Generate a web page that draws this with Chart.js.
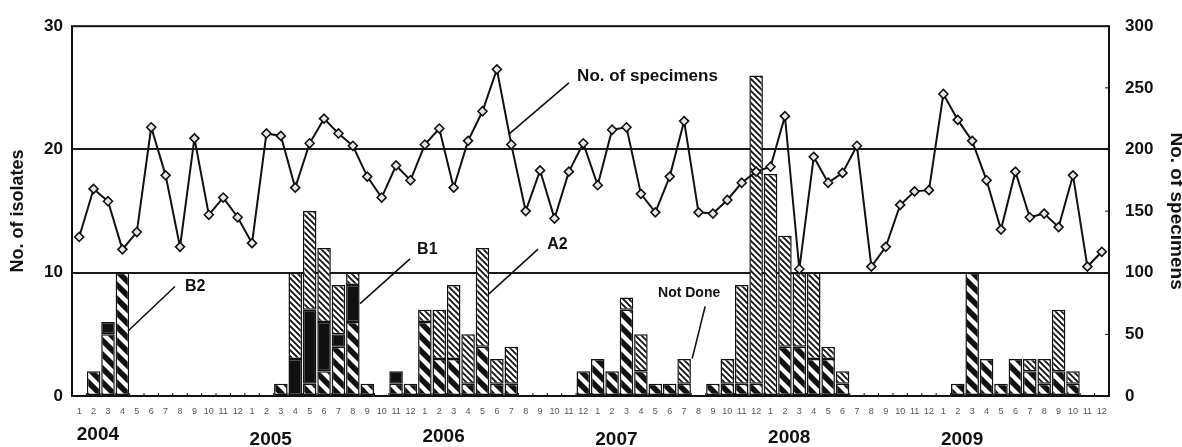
<!DOCTYPE html>
<html><head><meta charset="utf-8">
<script src="https://cdn.jsdelivr.net/npm/chart.js@4/dist/chart.umd.min.js"></script>
<style>html,body{margin:0;padding:0;background:#fff}canvas{display:block}</style>
</head><body>
<canvas id="c" width="1182" height="447"></canvas>
<script>
// ---------- DATA ----------
const years = ['2004','2005','2006','2007','2008','2009'];
const monthTicks = ['1','2','3','4','5','6','7','8','9','10','11','12'];
const leftTicks = [0,10,20,30];
const rightTicks = [0,50,100,150,200,250,300];

// B2 isolates (bold hatch)
const b2 = [
  0,2,5,10,0,0,0,0,0,0,0,0,
  0,0,1,0,1,2,4,6,1,0,1,1,
  6,3,3,1,4,1,1,0,0,0,0,2,
  3,2,7,2,1,1,1,0,1,1,1,1,
  0,4,4,3,3,1,0,0,0,0,0,0,
  0,1,10,3,1,3,2,1,2,1,0,0
];
// B1 isolates (solid black)
const b1 = [
  0,0,1,0,0,0,0,0,0,0,0,0,
  0,0,0,3,6,4,1,3,0,0,1,0,
  0,0,0,0,0,0,0,0,0,0,0,0,
  0,0,0,0,0,0,0,0,0,0,0,0,
  0,0,0,0,0,0,0,0,0,0,0,0,
  0,0,0,0,0,0,0,0,0,0,0,0
];
// A2 isolates (fine hatch)
const a2 = [
  0,0,0,0,0,0,0,0,0,0,0,0,
  0,0,0,7,8,6,4,1,0,0,0,0,
  1,4,6,4,8,2,3,0,0,0,0,0,
  0,0,1,3,0,0,2,0,0,2,8,25,
  18,9,6,7,1,1,0,0,0,0,0,0,
  0,0,0,0,0,0,1,2,5,1,0,0
];
// No. of specimens (right axis)
const specimens = [
  129,168,158,119,133,218,179,121,209,147,161,145,
  124,213,211,169,205,225,213,203,178,161,187,175,
  204,217,169,207,231,265,204,150,183,144,182,205,
  171,216,218,164,149,178,223,149,148,159,173,182,
  186,227,103,194,173,181,203,105,121,155,166,167,
  245,224,207,175,135,182,145,148,137,179,105,117
];

// ---------- LAYOUT / STYLE ----------
const FONT = '"Liberation Sans", Arial, sans-serif';
const yearPos = {offset:1.3, y:[435,440,437,440,438,440]};
const notes = [
  {text:'No. of specimens', at:[34.57,25.96], from:[34.0,25.4], to:[29.9,21.3], size:17},
  {text:'B2', at:[7.35,8.88], from:[6.65,8.88], to:[3.39,5.27], size:16},
  {text:'B1', at:[23.46,11.84], from:[22.97,11.12], to:[19.5,7.5], size:16},
  {text:'A2', at:[32.49,12.3], from:[31.86,11.92], to:[28.39,8.23], size:16},
  {text:'Not Done', at:[40.19,8.32], from:[43.46,7.27], to:[42.56,3.03], size:14}
];

const categories = [];
years.forEach(y => monthTicks.forEach(m => categories.push(y + '-' + m)));
const nz = arr => arr.map(v => v === 0 ? null : v);

const ctx = document.getElementById('c').getContext('2d');
function hatch(p, lw) {
  const c = document.createElement('canvas');
  c.width = c.height = p;
  const g = c.getContext('2d');
  g.fillStyle = '#fff'; g.fillRect(0,0,p,p);
  g.strokeStyle = '#111'; g.lineWidth = lw; g.lineCap = 'square';
  g.beginPath();
  for (const k of [-p, 0, p]) { g.moveTo(k, 0); g.lineTo(k + p, p); }
  g.stroke();
  return ctx.createPattern(c, 'repeat');
}
const patB2 = hatch(14, 5.5);
const patA2 = hatch(6, 1.8);

Chart.defaults.font.family = FONT;
Chart.defaults.color = '#111';

const decor = {
  id: 'decor',
  afterDatasetsDraw(chart) {
    const {ctx, chartArea: a, scales: {x, y, y1}} = chart;
    ctx.save();
    ctx.strokeStyle = '#111';
    ctx.lineWidth = 2;
    ctx.strokeRect(a.left, a.top, a.right - a.left, a.bottom - a.top);
    ctx.lineWidth = 1;
    const step = (a.right - a.left) / categories.length;
    for (let i = 1; i < categories.length; i++) {
      const px = a.left + i * step;
      ctx.beginPath(); ctx.moveTo(px, a.bottom); ctx.lineTo(px, a.bottom - 3); ctx.stroke();
    }
    rightTicks.forEach(v => {
      const py = y1.getPixelForValue(v);
      ctx.beginPath(); ctx.moveTo(a.right, py); ctx.lineTo(a.right - 4, py); ctx.stroke();
    });
    ctx.fillStyle = '#111';
    ctx.font = 'bold 19px ' + FONT;
    ctx.textAlign = 'center'; ctx.textBaseline = 'middle';
    years.forEach((yr, i) => ctx.fillText(yr, x.getPixelForValue(i * 12 + yearPos.offset), yearPos.y[i]));
    ctx.lineWidth = 1.6;
    ctx.textAlign = 'left';
    notes.forEach(n => {
      ctx.beginPath();
      ctx.moveTo(x.getPixelForValue(n.from[0]), y.getPixelForValue(n.from[1]));
      ctx.lineTo(x.getPixelForValue(n.to[0]), y.getPixelForValue(n.to[1]));
      ctx.stroke();
      ctx.font = 'bold ' + n.size + 'px ' + FONT;
      ctx.fillText(n.text, x.getPixelForValue(n.at[0]), y.getPixelForValue(n.at[1]));
    });
    ctx.restore();
  }
};

const barCommon = {type:'bar', borderColor:'#111', borderWidth:1.5, borderSkipped:false,
  yAxisID:'y', stack:'s', order:1, barPercentage:1, categoryPercentage:0.94};

new Chart(ctx, {
  data: {
    labels: categories,
    datasets: [
      {type:'line', label:'No. of specimens', data:specimens, yAxisID:'y1', order:0,
       borderColor:'#111', borderWidth:2, pointStyle:'rectRot', pointRadius:4.5,
       pointBackgroundColor:'#e6e6e6', pointBorderColor:'#111', pointBorderWidth:1.6, tension:0},
      Object.assign({label:'B2', data:nz(b2), backgroundColor:patB2}, barCommon),
      Object.assign({label:'B1', data:nz(b1), backgroundColor:'#111'}, barCommon),
      Object.assign({label:'A2', data:nz(a2), backgroundColor:patA2}, barCommon)
    ]
  },
  options: {
    responsive:false, animation:false,
    layout:{padding:{top:21, left:0, right:0, bottom:0}},
    plugins:{legend:{display:false}, tooltip:{enabled:false}},
    scales:{
      x:{stacked:true, offset:true, grid:{display:false}, border:{display:false},
         ticks:{autoSkip:false, maxRotation:0, minRotation:0, padding:2, font:{size:9}, color:'#555',
                callback:(v, i) => monthTicks[i % 12]},
         afterFit:s => { s.height = 51; }},
      y:{stacked:true, position:'left', min:0, max:30,
         afterBuildTicks:s => { s.ticks = leftTicks.map(v => ({value:v})); },
         grid:{color:c => (c.tick && (c.tick.value === 10 || c.tick.value === 20)) ? '#1a1a1a' : 'rgba(0,0,0,0)', lineWidth:2, drawTicks:false},
         border:{display:false},
         ticks:{padding:9, font:{size:17, weight:'bold'}, color:'#111'},
         title:{display:true, text:'No. of isolates', font:{size:18, weight:'bold', lineHeight:1.2}, padding:{top:7, bottom:0}, color:'#111'},
         afterFit:s => { s.width = 72; }},
      y1:{position:'right', min:0, max:300,
         afterBuildTicks:s => { s.ticks = rightTicks.map(v => ({value:v})); },
         grid:{drawOnChartArea:false, drawTicks:false}, border:{display:false},
         ticks:{padding:16, font:{size:17, weight:'bold'}, color:'#111'},
         title:{display:true, text:'No. of specimens', font:{size:19, weight:'bold', lineHeight:0.6}, padding:{top:0, bottom:0}, color:'#111'},
         afterFit:s => { s.width = 73; }}
    }
  },
  plugins:[decor]
});
</script>
</body></html>
